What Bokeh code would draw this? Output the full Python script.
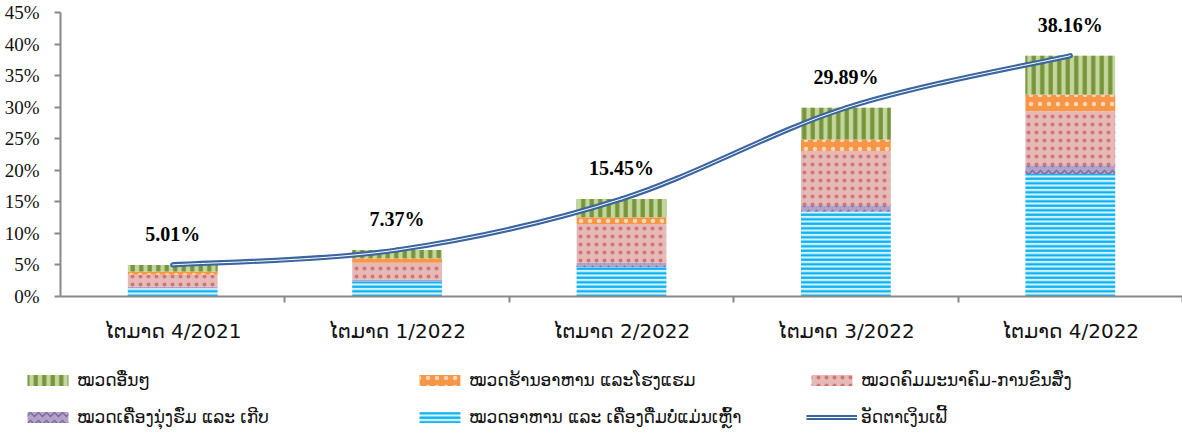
from bokeh.plotting import figure
from bokeh.models import (ColumnDataSource, Range1d, FixedTicker, PrintfTickFormatter,
                          Legend, LegendItem)
from bokeh.core.properties import value
from bokeh.embed import file_html
from bokeh.resources import INLINE

# ---------------- data ----------------
categories = ["ໄຕມາດ 4/2021", "ໄຕມາດ 1/2022", "ໄຕມາດ 2/2022", "ໄຕມາດ 3/2022", "ໄຕມາດ 4/2022"]
food = [1.30, 2.40, 4.67, 13.45, 19.42]          # ໝວດອາຫານ ແລະ ເຄື່ອງດື່ມບໍ່ແມ່ນເຫຼົ້າ
clothing = [0.26, 0.30, 0.68, 1.00, 1.37]        # ໝວດເຄື່ອງນຸ່ງຮົ່ມ ແລະ ເກີບ
transport = [1.90, 2.63, 6.15, 8.60, 8.58]       # ໝວດຄົມມະນາຄົມ-ການຂົນສົ່ງ
restaurant = [0.50, 0.74, 1.05, 1.84, 2.63]      # ໝວດຮ້ານອາຫານ ແລະໂຮງແຮມ
others = [1.05, 1.30, 2.90, 5.00, 6.16]          # ໝວດອື່ນໆ
inflation = [5.01, 7.37, 15.45, 29.89, 38.16]    # ອັດຕາເງິນເຟີ້
inflation_labels = ["5.01%", "7.37%", "15.45%", "29.89%", "38.16%"]
y_ticks = [0, 5, 10, 15, 20, 25, 30, 35, 40, 45]

series_names = ["ໝວດອາຫານ ແລະ ເຄື່ອງດື່ມບໍ່ແມ່ນເຫຼົ້າ", "ໝວດເຄື່ອງນຸ່ງຮົ່ມ ແລະ ເກີບ",
                "ໝວດຄົມມະນາຄົມ-ການຂົນສົ່ງ", "ໝວດຮ້ານອາຫານ ແລະໂຮງແຮມ", "ໝວດອື່ນໆ"]
line_name = "ອັດຕາເງິນເຟີ້"

xs = list(range(len(categories)))
src = ColumnDataSource(dict(x=xs, food=food, clothing=clothing, transport=transport,
                            restaurant=restaurant, others=others,
                            infl=inflation, lab=inflation_labels))

LAO = "DejaVu Sans"
SERIF = "Liberation Serif"
LINE_BLUE = "#3A659E"

# layout geometry (pixels): frame covers the whole canvas; axes are pinned in data space
W, H = 1182, 437
AXIS_X_PX, ZERO_Y_PX, TOP45_Y_PX = 60, 296, 12
SLOT_PX = (W - AXIS_X_PX) / 5.0
px_per_unit = (ZERO_Y_PX - TOP45_Y_PX) / 45.0
x_start = -0.5 - AXIS_X_PX / SLOT_PX
x_end = x_start + W / SLOT_PX
y_start = -(H - ZERO_Y_PX) / px_per_unit
y_end = 45 + TOP45_Y_PX / px_per_unit

p = figure(width=W, height=H, output_backend="svg", toolbar_location=None,
           x_range=Range1d(x_start, x_end), y_range=Range1d(y_start, y_end),
           min_border=0, min_border_left=0, min_border_right=0,
           min_border_top=0, min_border_bottom=0)
p.outline_line_color = None
p.grid.visible = False

stack_keys = ["food", "clothing", "transport", "restaurant", "others"]
fills = ["#D5F1FC", "#B3A2C7", "#E6B9B8", "#F79646", "#C3D69B"]
hcolors = ["#00B0F0", "#7E649E", "#CF7573", "#FBD6B8", "#77933C"]
hpatterns = ["horizontal_line", "horizontal_wave", "dot", "dot", "vertical_line"]
hscales = [4.5, 8, 8.0, 9, 8.5]
hweights = [2.2, 1.3, 1.0, 1.0, 4.2]

bars = p.vbar_stack(stack_keys, x="x", width=0.40, source=src,
                    fill_color=fills, line_color=None,
                    hatch_color=hcolors, hatch_pattern=hpatterns,
                    hatch_scale=hscales, hatch_weight=hweights)

# smoothed line (Excel-like) through the inflation points, built from the data
n = len(xs)
x0s, y0s, x1s, y1s, cx0, cy0, cx1, cy1 = [], [], [], [], [], [], [], []
for i in range(n - 1):
    pm = i - 1 if i > 0 else i
    pp = i + 2 if i + 2 < n else i + 1
    x0s.append(xs[i]); y0s.append(inflation[i])
    x1s.append(xs[i + 1]); y1s.append(inflation[i + 1])
    cx0.append(xs[i] + (xs[i + 1] - xs[pm]) / 6.0)
    cy0.append(inflation[i] + (inflation[i + 1] - inflation[pm]) / 6.0)
    cx1.append(xs[i + 1] - (xs[pp] - xs[i]) / 6.0)
    cy1.append(inflation[i + 1] - (inflation[pp] - inflation[i]) / 6.0)
bsrc = ColumnDataSource(dict(x0=x0s, y0=y0s, x1=x1s, y1=y1s, cx0=cx0, cy0=cy0, cx1=cx1, cy1=cy1))
p.bezier(x0="x0", y0="y0", x1="x1", y1="y1", cx0="cx0", cy0="cy0", cx1="cx1", cy1="cy1",
         source=bsrc, line_color=LINE_BLUE, line_width=5.2, line_cap="round")
p.bezier(x0="x0", y0="y0", x1="x1", y1="y1", cx0="cx0", cy0="cy0", cx1="cx1", cy1="cy1",
         source=bsrc, line_color="white", line_width=1.0, line_cap="round")
# single-point lines (invisible on the chart) used as the legend swatch of the line
lg1 = p.line(x=xs[:1], y=inflation[:1], line_color=LINE_BLUE, line_width=5.2)
lg2 = p.line(x=xs[:1], y=inflation[:1], line_color="white", line_width=1.0)

p.text(x="x", y="infl", text="lab", source=src, text_align="center", text_baseline="middle",
       y_offset=-31, text_font=value(SERIF), text_font_style="bold",
       text_font_size="20px", text_color="black")

# axes (pinned at the data origin so the frame can hold the legend)
ax = p.xaxis[0]
ax.fixed_location = 0
ax.bounds = (-0.5, x_end)
ax.ticker = FixedTicker(ticks=xs, minor_ticks=[0.5, 1.5, 2.5, 3.5, 4.5])
ax.major_label_overrides = {i: c for i, c in enumerate(categories)}
ax.major_tick_out = 0
ax.major_tick_in = 0
ax.minor_tick_out = 6
ax.minor_tick_in = 0
ax.minor_tick_line_color = "#888888"
ax.minor_tick_line_width = 2
ax.axis_line_color = "#888888"
ax.axis_line_width = 2
ax.major_label_text_font = LAO
ax.major_label_text_font_size = "20px"
ax.major_label_text_color = "#111111"
ax.major_label_standoff = 16

ay = p.yaxis[0]
ay.fixed_location = -0.5
ay.bounds = (0, 45)
ay.ticker = FixedTicker(ticks=y_ticks)
ay.formatter = PrintfTickFormatter(format="%d%%")
ay.major_tick_out = 6
ay.major_tick_in = 0
ay.minor_tick_line_color = None
ay.major_tick_line_color = "#888888"
ay.major_tick_line_width = 2
ay.axis_line_color = "#888888"
ay.axis_line_width = 2
ay.major_label_text_font = SERIF
ay.major_label_text_font_size = "19px"
ay.major_label_text_color = "#111111"
ay.major_label_standoff = 15

# legend (row 1: others, restaurant, transport; row 2: clothing, food, line)
items = [
    LegendItem(label=series_names[4], renderers=[bars[4]]),
    LegendItem(label=series_names[3], renderers=[bars[3]]),
    LegendItem(label=series_names[2], renderers=[bars[2]]),
    LegendItem(label=series_names[1], renderers=[bars[1]]),
    LegendItem(label=series_names[0], renderers=[bars[0]]),
    LegendItem(label=line_name, renderers=[lg1, lg2]),
]
leg = Legend(items=items, location=(22, 10), orientation="horizontal", ncols=3,
             glyph_width=51, glyph_height=14, label_standoff=4, label_width=320,
             label_height=20, spacing=17, padding=0, margin=0,
             border_line_color=None, background_fill_alpha=0,
             label_text_font=LAO, label_text_font_size="17px", label_text_color="#111111")
p.add_layout(leg, "center")

open("out.html", "w").write(file_html(p, INLINE))
